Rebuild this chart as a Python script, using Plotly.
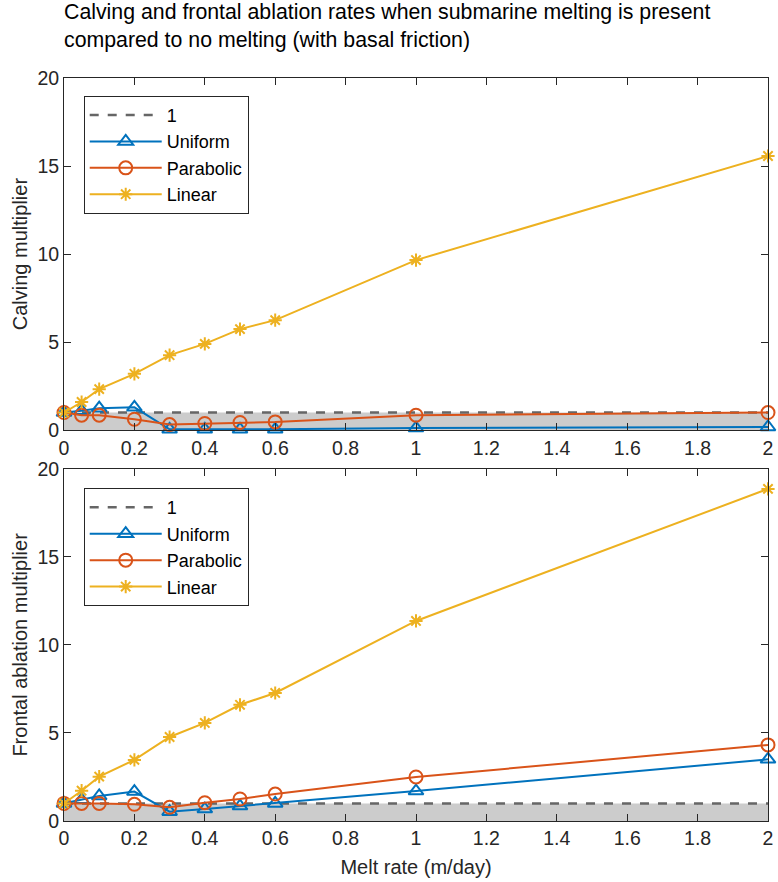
import plotly.graph_objects as go

melt = [0, 0.05, 0.1, 0.2, 0.3, 0.4, 0.5, 0.6, 1, 2]

calv_uniform = [1.0, 1.1, 1.25, 1.3, 0.05, 0.05, 0.05, 0.05, 0.12, 0.18]
calv_parabolic = [1.0, 0.85, 0.85, 0.62, 0.32, 0.38, 0.44, 0.47, 0.85, 1.0]
calv_linear = [1.0, 1.6, 2.33, 3.2, 4.26, 4.9, 5.74, 6.25, 9.66, 15.57]

fa_uniform = [1.0, 1.2, 1.42, 1.67, 0.53, 0.68, 0.85, 1.0, 1.7, 3.5]
fa_parabolic = [1.0, 1.0, 1.0, 0.95, 0.78, 1.04, 1.25, 1.53, 2.5, 4.32]
fa_linear = [1.0, 1.72, 2.52, 3.47, 4.77, 5.57, 6.6, 7.27, 11.36, 18.86]

ref_x = [0, 2]
ref_y = [1, 1]

x_ticks = [0, 0.2, 0.4, 0.6, 0.8, 1, 1.2, 1.4, 1.6, 1.8, 2]
y_ticks = [0, 5, 10, 15, 20]

BLUE = "#0072BD"
ORANGE = "#D95319"
YELLOW = "#EDB120"
FONT = "Liberation Sans"

fig = go.Figure()

panels = [
    ("x", "y", "legend", calv_uniform, calv_parabolic, calv_linear),
    ("x2", "y2", "legend2", fa_uniform, fa_parabolic, fa_linear),
]
for xa, ya, lg, u, p, l in panels:
    fig.add_trace(go.Scatter(x=ref_x, y=ref_y, mode="none", fill="tozeroy",
                             fillcolor="#cccccc", showlegend=False,
                             xaxis=xa, yaxis=ya, hoverinfo="skip"))
    fig.add_trace(go.Scatter(x=ref_x, y=ref_y, mode="lines", name="1",
                             line=dict(color="#666666", width=2.5, dash="dash"),
                             xaxis=xa, yaxis=ya, legend=lg))
    fig.add_trace(go.Scatter(x=melt, y=u, mode="lines+markers", name="Uniform",
                             line=dict(color=BLUE, width=2),
                             marker=dict(symbol="triangle-up-open", size=13, color=BLUE,
                                         line=dict(width=2, color=BLUE)),
                             xaxis=xa, yaxis=ya, legend=lg, cliponaxis=False))
    fig.add_trace(go.Scatter(x=melt, y=p, mode="lines+markers", name="Parabolic",
                             line=dict(color=ORANGE, width=2),
                             marker=dict(symbol="circle-open", size=13, color=ORANGE,
                                         line=dict(width=2, color=ORANGE)),
                             xaxis=xa, yaxis=ya, legend=lg, cliponaxis=False))
    fig.add_trace(go.Scatter(x=melt, y=l, mode="lines+markers", name="Linear",
                             line=dict(color=YELLOW, width=2),
                             marker=dict(symbol="asterisk-open", size=11, color=YELLOW,
                                         line=dict(width=2, color=YELLOW)),
                             xaxis=xa, yaxis=ya, legend=lg, cliponaxis=False))

axis_common = dict(showline=True, linecolor="#262626", linewidth=1, mirror="allticks",
                   ticks="inside", ticklen=7, tickcolor="#262626", showgrid=False,
                   zeroline=False, automargin=False,
                   tickfont=dict(family=FONT, size=19.5, color="#262626"))

legend_common = dict(bgcolor="white", bordercolor="#262626", borderwidth=1,
                     font=dict(family=FONT, size=18, color="#000000"),
                     xanchor="left", yanchor="top", tracegroupgap=0, itemwidth=72)

title_font = dict(family=FONT, size=20, color="#262626")

fig.update_layout(
    width=778, height=882,
    margin=dict(l=64, r=10, t=78, b=61),
    plot_bgcolor="white", paper_bgcolor="white",
    xaxis=dict(domain=[0, 1], anchor="y", range=[0, 2], tickvals=x_ticks,
               ticktext=[f"{v:g}" for v in x_ticks], **axis_common),
    yaxis=dict(domain=[0.526, 1], anchor="x", range=[0, 20], tickvals=y_ticks,
               title=dict(text="Calving multiplier", standoff=4, font=title_font),
               **axis_common),
    xaxis2=dict(domain=[0, 1], anchor="y2", range=[0, 2], tickvals=x_ticks,
                ticktext=[f"{v:g}" for v in x_ticks],
                title=dict(text="Melt rate (m/day)", standoff=11, font=title_font),
                **axis_common),
    yaxis2=dict(domain=[0, 0.474], anchor="x2", range=[0, 20], tickvals=y_ticks,
                title=dict(text="Frontal ablation multiplier", standoff=4, font=title_font),
                **axis_common),
    legend=dict(x=0.028, y=0.976, **legend_common),
    legend2=dict(x=0.028, y=0.448, **legend_common),
    annotations=[dict(text="Calving and frontal ablation rates when submarine melting is present<br>compared to no melting (with basal friction)",
                      xref="paper", yref="paper", x=-0.003, y=1.107, xanchor="left", yanchor="top",
                      align="left", showarrow=False,
                      font=dict(family=FONT, size=21.3, color="#000000"))],
)

fig.write_html("out.html")
